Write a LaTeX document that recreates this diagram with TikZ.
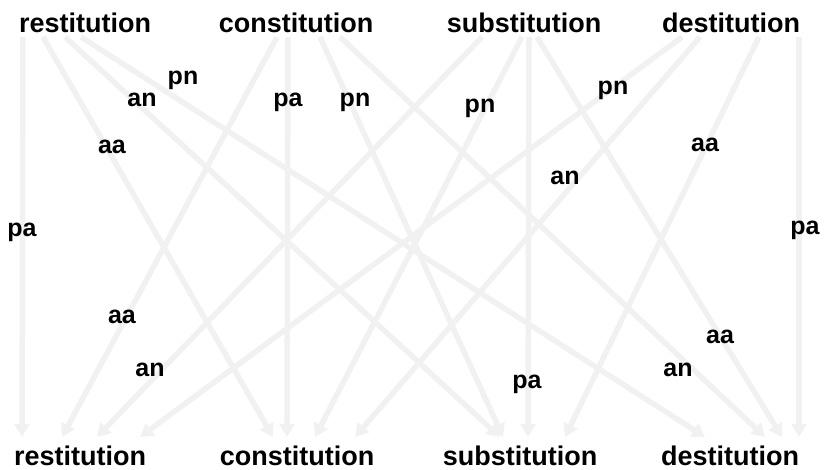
\documentclass[tikz,border=0pt]{standalone}
\usepackage{fontspec}
\setmainfont{Liberation Sans}
\usetikzlibrary{arrows.meta,backgrounds}
\definecolor{edgec}{RGB}{241,241,241}
\begin{document}
\begin{tikzpicture}[x=1pt,y=-1pt,
  word/.style={font=\fontsize{27}{27}\selectfont\bfseries, inner sep=0pt, anchor=base},
  lab/.style={font=\fontsize{25}{25}\selectfont\bfseries, inner sep=0pt},
  conn/.style={draw=edgec, line width=5.5pt, -{Triangle[width=15pt,length=13pt]}}]
\useasboundingbox (0,0) rectangle (824,470);
% top row
\node[word] (tR) at (85,33) {restitution};
\node[word] (tC) at (296,33) {constitution};
\node[word] (tS) at (524,33) {substitution};
\node[word] (tD) at (731,33) {destitution};
% bottom row
\node[word] (bR) at (80,465) {restitution};
\node[word] (bC) at (297,465) {constitution};
\node[word] (bS) at (520,465) {substitution};
\node[word] (bD) at (730,465) {destitution};
\begin{pgfonlayer}{background}
% from restitution
\draw[conn] ([xshift=-62pt,yshift=-4pt]tR.base) -- ([xshift=-58pt,yshift=28pt]bR.base);
\draw[conn] ([xshift=-42pt,yshift=-4pt]tR.base) -- ([xshift=-24pt,yshift=28pt]bC.base);
\draw[conn] ([xshift=-20pt,yshift=-4pt]tR.base) -- ([xshift=-20pt,yshift=28pt]bS.base);
\draw[conn] ([xshift=-4pt,yshift=-4pt]tR.base) -- ([xshift=-25pt,yshift=28pt]bD.base);
% from constitution
\draw[conn] ([xshift=-19pt,yshift=-4pt]tC.base) -- ([xshift=-18pt,yshift=28pt]bR.base);
\draw[conn] ([xshift=-8pt,yshift=-4pt]tC.base) -- ([xshift=-10pt,yshift=28pt]bC.base);
\draw[conn] ([xshift=24pt,yshift=-4pt]tC.base) -- ([xshift=-17pt,yshift=28pt]bS.base);
\draw[conn] ([xshift=44pt,yshift=-4pt]tC.base) -- ([xshift=35pt,yshift=28pt]bD.base);
% from substitution
\draw[conn] ([xshift=-42pt,yshift=-4pt]tS.base) -- ([xshift=17pt,yshift=28pt]bR.base);
\draw[conn] ([xshift=-2pt,yshift=-4pt]tS.base) -- ([xshift=18pt,yshift=28pt]bC.base);
\draw[conn] ([xshift=5pt,yshift=-4pt]tS.base) -- ([xshift=8pt,yshift=28pt]bS.base);
\draw[conn] ([xshift=13pt,yshift=-4pt]tS.base) -- ([xshift=52pt,yshift=28pt]bD.base);
% from destitution
\draw[conn] ([xshift=-49pt,yshift=-4pt]tD.base) -- ([xshift=60pt,yshift=28pt]bR.base);
\draw[conn] ([xshift=-31pt,yshift=-4pt]tD.base) -- ([xshift=58pt,yshift=28pt]bC.base);
\draw[conn] ([xshift=28pt,yshift=-4pt]tD.base) -- ([xshift=45pt,yshift=28pt]bS.base);
\draw[conn] ([xshift=68pt,yshift=-4pt]tD.base) -- ([xshift=69pt,yshift=28pt]bD.base);
\end{pgfonlayer}
% labels
\node[lab] (l1) at (22,232) {pa};
\node[lab] (l2) at (112,147) {aa};
\node[lab] (l3) at (142,100) {an};
\node[lab] (l4) at (183,80) {pn};
\node[lab] (l5) at (122,317) {aa};
\node[lab] (l6) at (288,102) {pa};
\node[lab] (l7) at (355,102) {pn};
\node[lab] (l8) at (678,370) {an};
\node[lab] (l9) at (150,370) {an};
\node[lab] (l10) at (480,108) {pn};
\node[lab] (l11) at (527,384) {pa};
\node[lab] (l12) at (720,337) {aa};
\node[lab] (l13) at (613,90) {pn};
\node[lab] (l14) at (565,178) {an};
\node[lab] (l15) at (705,145) {aa};
\node[lab] (l16) at (805,230) {pa};
\end{tikzpicture}
\end{document}
